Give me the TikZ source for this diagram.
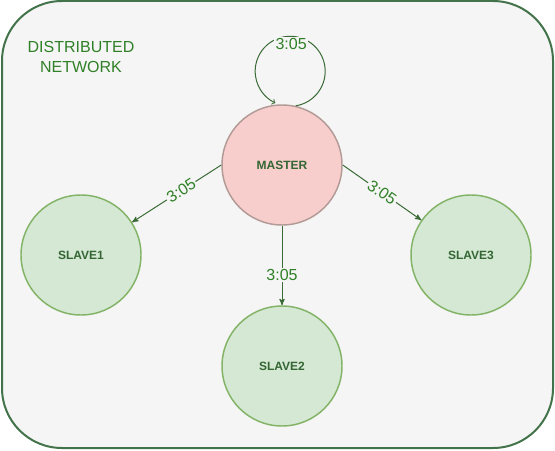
\documentclass[tikz,border=0pt]{standalone}
\usepackage{fontspec}
\setmainfont{Liberation Sans}
\usetikzlibrary{arrows}

\definecolor{panelfill}{HTML}{F5F5F5}
\definecolor{panelline}{HTML}{43734A}
\definecolor{masterfill}{HTML}{F8CECC}
\definecolor{masterline}{HTML}{B29A96}
\definecolor{slavefill}{HTML}{D5E8D4}
\definecolor{slaveline}{HTML}{82B366}
\definecolor{nodetext}{HTML}{336633}
\definecolor{labeltext}{HTML}{2F8026}
\definecolor{linkcolor}{HTML}{3A6A35}

\tikzset{
  machine/.style = {circle, minimum size=90pt, inner sep=0pt, line width=1.1pt,
                    font=\fontsize{9}{11}\selectfont\bfseries, text=nodetext},
  master/.style  = {machine, fill=masterfill, draw=masterline},
  slave/.style   = {machine, fill=slavefill, draw=slaveline},
  link/.style    = {draw=linkcolor, line width=0.75pt, -stealth'},
  loopline/.style= {draw=linkcolor, line width=0.75pt, ->},
  timelabel/.style = {fill=panelfill, inner sep=1pt, text=labeltext,
                      font=\fontsize{12}{14}\selectfont}
}

\begin{document}
\begin{tikzpicture}[x=0.75pt, y=0.75pt]
  \useasboundingbox (0,0) rectangle (555,450);
  \draw[fill=panelfill, draw=panelline, line width=1.5pt, rounded corners=45pt]
       (2,2) rectangle (553,449);

  \node (title) at (81,393) [align=center, text=labeltext,
        font=\fontsize{12}{14.5}\selectfont] {DISTRIBUTED\\NETWORK};

  \node (master) at (282,285) [master] {MASTER};
  \node (slave1) at (81,195)  [slave]  {SLAVE1};
  \node (slave2) at (282,84)  [slave]  {SLAVE2};
  \node (slave3) at (471,195) [slave]  {SLAVE3};

  \draw[loopline] (master.77) arc[start angle=-81, end angle=245, radius=35]
        node[timelabel, pos=0.52, yshift=-6pt] {3:05};
  \draw[link] (master.west) -- node[timelabel, sloped, pos=0.45] {3:05} (slave1);
  \draw[link] (master) -- node[timelabel, pos=0.62] {3:05} (slave2);
  \draw[link] (master.east) -- node[timelabel, sloped] {3:05} (slave3);

\end{tikzpicture}
\end{document}
